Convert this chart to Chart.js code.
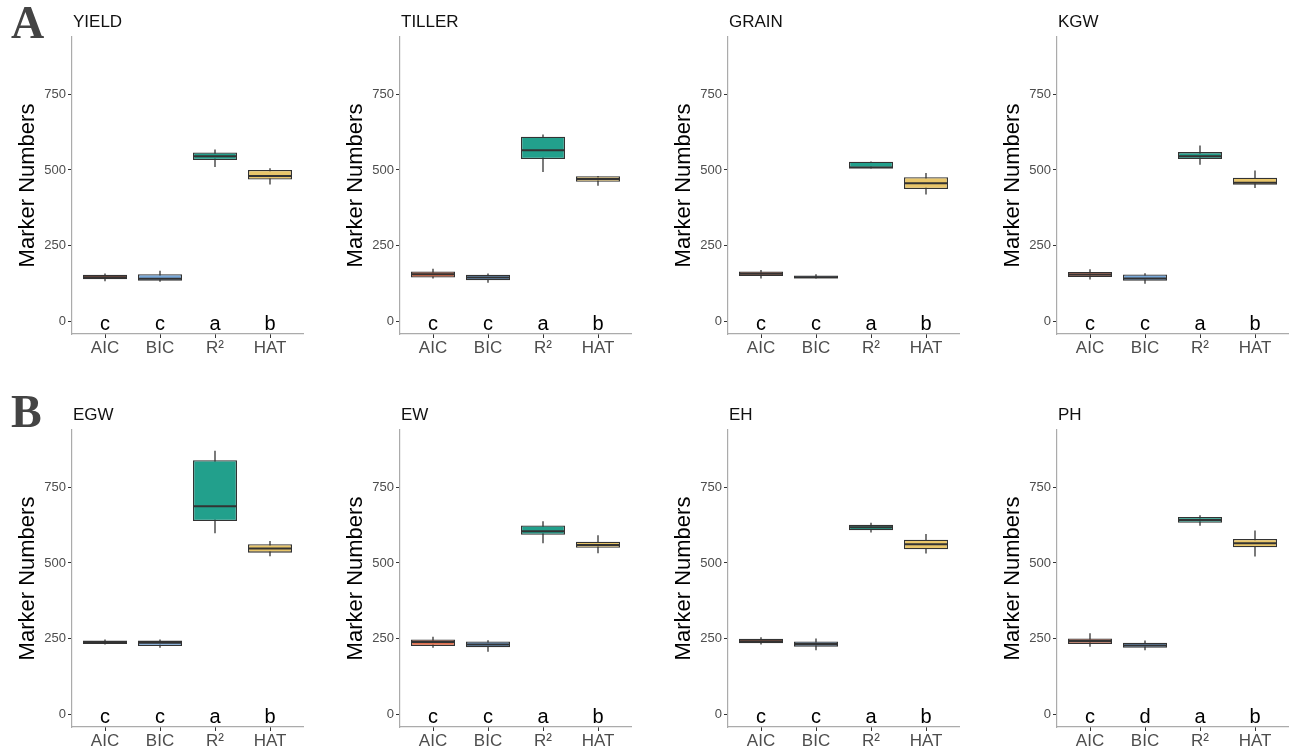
<!DOCTYPE html>
<html>
<head>
<meta charset="utf-8">
<script src="https://cdn.jsdelivr.net/npm/chart.js@4.4.1/dist/chart.umd.min.js"></script>
<style>
  html, body { margin: 0; padding: 0; background: #fff; width: 1294px; height: 753px; overflow: hidden; position: relative; }
  canvas { position: absolute; }
  .panel-tag { position: absolute; z-index: 2; line-height: 1; font-family: "Liberation Serif", "DejaVu Serif", serif; font-weight: bold; font-size: 46px; color: #444; }
</style>
</head>
<body>
<div class="panel-tag" style="left:11px;top:0px;">A</div>
<div class="panel-tag" style="left:11px;top:389px;">B</div>

<script>
/* =========================================================
   DATA — five-number summaries [min, q1, median, q3, max]
   one row per method (AIC, BIC, R², HAT)
========================================================= */

const methods = ["AIC", "BIC", "R²", "HAT"];
const yTicks = [0, 250, 500, 750];

const yieldStats  = [[132, 138, 145, 153, 157], [130, 133, 140, 155, 166], [510, 533, 545, 558, 568], [452, 468, 480, 500, 506]];
const tillerStats = [[141, 144, 155, 164, 173], [127, 135, 144, 153, 157], [493, 536, 565, 610, 617], [448, 461, 470, 479, 480]];
const grainStats  = [[141, 149, 156, 164, 169], [141, 141, 145, 151, 155], [505, 506, 508, 527, 528], [419, 437, 456, 476, 490]];
const kgwStats    = [[137, 146, 154, 162, 171], [123, 133, 141, 154, 158], [517, 536, 545, 559, 581], [440, 451, 458, 474, 498]];
const egwStats    = [[230, 232, 238, 243, 247], [219, 225, 236, 243, 247], [598, 639, 688, 840, 871], [522, 534, 548, 562, 573]];
const ewStats     = [[219, 225, 238, 247, 256], [206, 221, 230, 240, 244], [565, 593, 605, 624, 638], [532, 550, 559, 570, 592]];
const ehStats     = [[230, 234, 241, 249, 254], [211, 223, 232, 240, 250], [601, 608, 618, 626, 633], [531, 545, 562, 577, 596]];
const phStats     = [[223, 232, 242, 250, 267], [211, 219, 227, 236, 243], [623, 633, 642, 652, 658], [521, 552, 565, 579, 607]];

const groupLetters   = ["c", "c", "a", "b"];
const phGroupLetters = ["c", "d", "a", "b"];

/* =========================================================
   STYLE
========================================================= */

const sansFamily = '"Liberation Sans", Arial, Helvetica, sans-serif';
const methodFills = ["#E0704F", "#78A9DB", "#22A08C", "#E9C66A"];
const inkColor = "#333333";

const panelLefts = [0, 328, 656, 985];
const panelTops = [0, 393];
const panelWidth = 309;
const panelHeight = 370;

const traits = [
  { name: "YIELD",  stats: yieldStats,  letters: groupLetters },
  { name: "TILLER", stats: tillerStats, letters: groupLetters },
  { name: "GRAIN",  stats: grainStats,  letters: groupLetters },
  { name: "KGW",    stats: kgwStats,    letters: groupLetters },
  { name: "EGW",    stats: egwStats,    letters: groupLetters },
  { name: "EW",     stats: ewStats,     letters: groupLetters },
  { name: "EH",     stats: ehStats,     letters: groupLetters },
  { name: "PH",     stats: phStats,     letters: phGroupLetters }
];

/* =========================================================
   BOX PARTS PLUGIN (whiskers, medians, letters, panel title)
========================================================= */

const boxParts = {
  id: "boxParts",

  beforeDatasetsDraw(chart, args, opts) {
    const { ctx, scales: { x, y } } = chart;
    ctx.save();
    ctx.strokeStyle = inkColor;
    ctx.lineWidth = 1.3;
    opts.stats.forEach((s, i) => {
      const px = x.getPixelForValue(i + 1);
      ctx.beginPath();
      ctx.moveTo(px, y.getPixelForValue(s[0]));
      ctx.lineTo(px, y.getPixelForValue(s[4]));
      ctx.stroke();
    });
    ctx.restore();
  },

  afterDatasetsDraw(chart, args, opts) {
    const { ctx, chartArea, scales: { x, y } } = chart;
    const meta = chart.getDatasetMeta(0);

    ctx.save();
    ctx.strokeStyle = inkColor;
    ctx.lineWidth = 2;
    opts.stats.forEach((s, i) => {
      const bar = meta.data[i];
      const half = bar.width / 2;
      const py = y.getPixelForValue(s[2]);
      ctx.beginPath();
      ctx.moveTo(bar.x - half, py);
      ctx.lineTo(bar.x + half, py);
      ctx.stroke();
    });

    // significance letters sit on the zero line
    ctx.fillStyle = "#000";
    ctx.font = "20px " + sansFamily;
    ctx.textAlign = "center";
    ctx.textBaseline = "alphabetic";
    opts.letters.forEach((l, i) => {
      ctx.fillText(l, x.getPixelForValue(i + 1), y.getPixelForValue(0) + 9);
    });

    // panel title, left aligned with the y axis
    ctx.fillStyle = "#111";
    ctx.font = "17px " + sansFamily;
    ctx.textAlign = "left";
    ctx.fillText(opts.name, chartArea.left + 1, chartArea.top - 10);
    ctx.restore();
  }
};

/* =========================================================
   PANEL BUILDER
========================================================= */

function buildPanel(canvas, trait) {
  return new Chart(canvas, {
    type: "bar",
    data: {
      datasets: [{
        data: trait.stats.map((s, i) => ({ x: i + 1, y: [s[1], s[3]] })),
        backgroundColor: methodFills,
        borderColor: inkColor,
        borderWidth: 1.3,
        borderSkipped: false,
        barPercentage: 0.8,
        categoryPercentage: 1
      }]
    },
    options: {
      responsive: false,
      animation: false,
      events: [],
      layout: { padding: { top: 37, right: 6, left: 0, bottom: 0 } },
      plugins: {
        legend: { display: false },
        tooltip: { enabled: false },
        boxParts: { name: trait.name, stats: trait.stats, letters: trait.letters }
      },
      scales: {
        x: {
          type: "linear",
          min: 0.4,
          max: 4.6,
          offset: false,
          afterBuildTicks: s => { s.ticks = methods.map((m, i) => ({ value: i + 1 })); },
          afterFit: s => { s.height = 36; },
          ticks: {
            callback: v => methods[v - 1],
            color: "#4d4d4d",
            font: { size: 17, family: sansFamily },
            padding: 0,
            maxRotation: 0,
            autoSkip: false
          },
          grid: { display: true, offset: false, drawOnChartArea: false, drawTicks: true, tickLength: 4, color: inkColor },
          border: { display: true, color: "#ababab", width: 1.2 }
        },
        y: {
          min: -43,
          max: 940,
          afterBuildTicks: s => { s.ticks = yTicks.map(v => ({ value: v })); },
          afterFit: s => { s.width = 72; },
          ticks: {
            color: "#4d4d4d",
            font: { size: 13, family: sansFamily },
            padding: 2
          },
          title: {
            display: true,
            text: "Marker Numbers",
            color: "#000",
            font: { size: 22, family: sansFamily },
            padding: { top: 15, bottom: 0 }
          },
          grid: { display: true, drawOnChartArea: false, drawTicks: true, tickLength: 4, color: inkColor },
          border: { display: true, color: "#ababab", width: 1.2 }
        }
      }
    },
    plugins: [boxParts]
  });
}

/* =========================================================
   RENDER GRID (2 rows x 4 panels)
========================================================= */

traits.forEach((trait, idx) => {
  const canvas = document.createElement("canvas");
  canvas.width = panelWidth;
  canvas.height = panelHeight;
  canvas.style.left = panelLefts[idx % 4] + "px";
  canvas.style.top = panelTops[Math.floor(idx / 4)] + "px";
  document.body.appendChild(canvas);
  buildPanel(canvas, trait);
});
</script>
</body>
</html>
